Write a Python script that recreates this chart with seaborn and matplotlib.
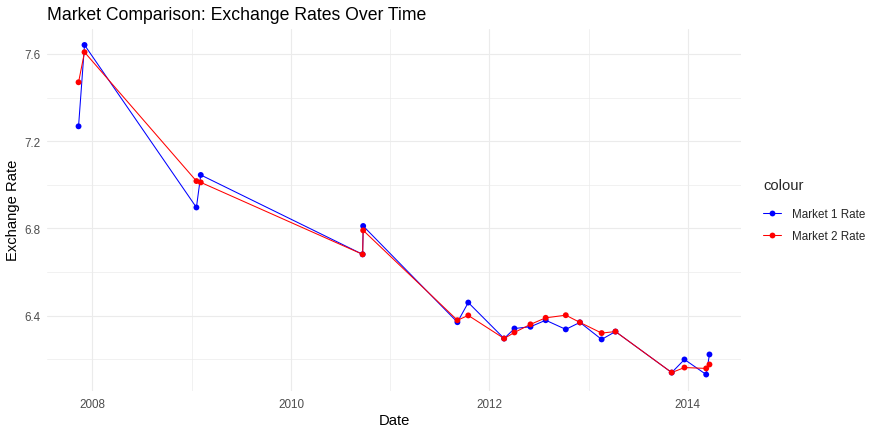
import matplotlib

matplotlib.use("Agg")
import matplotlib.dates as mdates
import matplotlib.pyplot as plt
import pandas as pd
import seaborn as sns
from matplotlib.lines import Line2D

dates = [
    "2007-11-11", "2007-12-03", "2009-01-18", "2009-02-03", "2010-09-22",
    "2010-09-24", "2011-09-06", "2011-10-16", "2012-02-25", "2012-04-03",
    "2012-06-01", "2012-07-27", "2012-10-09", "2012-11-30", "2013-02-18",
    "2013-04-10", "2013-11-03", "2013-12-20", "2014-03-10", "2014-03-22",
]
market1_rate = [
    7.268, 7.641, 6.896, 7.045, 6.681, 6.811, 6.370, 6.460, 6.295, 6.341,
    6.349, 6.379, 6.337, 6.369, 6.291, 6.327, 6.139, 6.199, 6.130, 6.222,
]
market2_rate = [
    7.470, 7.608, 7.017, 7.011, 6.681, 6.791, 6.379, 6.401, 6.295, 6.323,
    6.360, 6.390, 6.402, 6.369, 6.320, 6.327, 6.139, 6.162, 6.158, 6.176,
]
series_names = ["Market 1 Rate", "Market 2 Rate"]
series_colors = {"Market 1 Rate": "#0000FF", "Market 2 Rate": "#FF0000"}
x_major_years = [2008, 2010, 2012, 2014]
x_minor_years = [2009, 2011, 2013]
y_major = [6.4, 6.8, 7.2, 7.6]
y_minor = [6.2, 6.6, 7.0, 7.4]

df = pd.DataFrame({
    "Date": pd.to_datetime(dates * 2),
    "Rate": market1_rate + market2_rate,
    "colour": [series_names[0]] * len(dates) + [series_names[1]] * len(dates),
})

sns.set_theme(style="white")
plt.rcParams["font.family"] = ["Liberation Sans", "DejaVu Sans"]

fig = plt.figure(figsize=(8.77, 4.31), dpi=100)
ax = fig.add_axes([47 / 877, 39 / 431, 694 / 877, 362.5 / 431])

sns.lineplot(data=df, x="Date", y="Rate", hue="colour", palette=series_colors,
             estimator=None, sort=False, linewidth=0.75, legend=False, ax=ax, zorder=3)
sns.scatterplot(data=df, x="Date", y="Rate", hue="colour", palette=series_colors,
                s=18, linewidth=0, legend=False, ax=ax, zorder=4)

ax.margins(x=0.05, y=0.05)
ax.set_xticks(pd.to_datetime([f"{y}-01-01" for y in x_major_years]))
ax.set_xticks(pd.to_datetime([f"{y}-01-01" for y in x_minor_years]), minor=True)
ax.xaxis.set_major_formatter(mdates.DateFormatter("%Y"))
ax.set_yticks(y_major)
ax.set_yticks(y_minor, minor=True)
ax.set_yticklabels([f"{v:.1f}" for v in y_major])

ax.grid(which="major", color="#EBEBEB", linewidth=0.8)
ax.grid(which="minor", color="#EBEBEB", linewidth=0.5)
ax.set_axisbelow(True)
for s in ax.spines.values():
    s.set_visible(False)
ax.tick_params(which="both", length=0, labelsize=8.4, labelcolor="#4D4D4D", pad=5)

ax.set_xlabel("Date", fontsize=10.6, color="black", labelpad=2)
ax.set_ylabel("Exchange Rate", fontsize=10.6, color="black", labelpad=3)
ax.set_title("Market Comparison: Exchange Rates Over Time", loc="left",
             fontsize=12.7, color="black", pad=7)

handles = [Line2D([], [], color=series_colors[n], linewidth=0.75, marker="o",
                  markersize=4.2, markeredgewidth=0) for n in series_names]
leg = fig.legend(handles, series_names, title="colour", loc="upper left",
                 bbox_to_anchor=(763 / 877, 1 - 179 / 431), frameon=False,
                 fontsize=8.4, title_fontsize=10.6, alignment="left",
                 handlelength=1.5, handletextpad=1.0, labelspacing=0.9,
                 borderpad=0, borderaxespad=0)
# ggplot leaves a wider gap between legend title and keys
leg._legend_box.sep = 11.5

fig.savefig("out.png", dpi=100)
